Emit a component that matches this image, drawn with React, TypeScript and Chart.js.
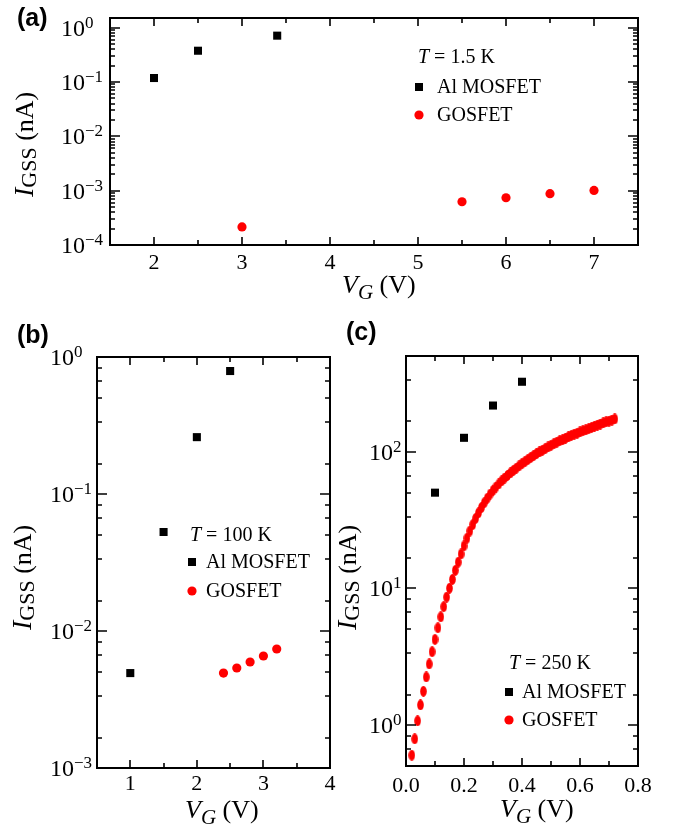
import React, { useEffect, useRef } from 'react';
import { Chart, registerables } from 'chart.js';

Chart.register(...registerables);

const W = 675;
const H = 834;
const SERIF = '"Liberation Serif", "Times New Roman", Times, serif';
const SANS = '"Liberation Sans", Arial, Helvetica, sans-serif';
const RED = '#ff0000';
const BLACK = '#000000';

// ---------- Panel (a): T = 1.5 K ----------
const aMosfetVg = [2, 2.5, 3.4];
const aMosfetI = [0.118, 0.375, 0.71];
const aGosfetVg = [3, 5.5, 6, 6.5, 7];
const aGosfetI = [2.15e-4, 6.25e-4, 7.4e-4, 8.8e-4, 1.01e-3];
const aXMajor = [2, 3, 4, 5, 6, 7];
const aXLabels = ['2', '3', '4', '5', '6', '7'];
const aXMinor = [2.5, 3.5, 4.5, 5.5, 6.5];
const aYMajor = [1e-4, 1e-3, 1e-2, 1e-1, 1];
const aYExp = ['\u22124', '\u22123', '\u22122', '\u22121', '0'];
const aYMinor = [
  2e-4, 3e-4, 4e-4, 5e-4, 6e-4, 7e-4, 8e-4, 9e-4,
  2e-3, 3e-3, 4e-3, 5e-3, 6e-3, 7e-3, 8e-3, 9e-3,
  2e-2, 3e-2, 4e-2, 5e-2, 6e-2, 7e-2, 8e-2, 9e-2,
  0.2, 0.3, 0.4, 0.5, 0.6, 0.7, 0.8, 0.9,
];

// ---------- Panel (b): T = 100 K ----------
const bMosfetVg = [1, 1.5, 2, 2.5];
const bMosfetI = [4.93e-3, 0.0528, 0.26, 0.79];
const bGosfetVg = [2.4, 2.6, 2.8, 3.0, 3.2];
const bGosfetI = [4.93e-3, 5.37e-3, 5.94e-3, 6.57e-3, 7.39e-3];
const bXMajor = [1, 2, 3, 4];
const bXLabels = ['1', '2', '3', '4'];
const bXMinor = [1.5, 2.5, 3.5];
const bYMajor = [1e-3, 1e-2, 1e-1, 1];
const bYExp = ['\u22123', '\u22122', '\u22121', '0'];
const bYMinor = [
  1.667e-3, 3.333e-3, 5e-3, 6.667e-3, 8.333e-3,
  1.667e-2, 3.333e-2, 5e-2, 6.667e-2, 8.333e-2,
  0.1667, 0.3333, 0.5, 0.6667, 0.8333,
];

// ---------- Panel (c): T = 250 K ----------
const cMosfetVg = [0.1, 0.2, 0.3, 0.4];
const cMosfetI = [50, 126, 217, 324];
const cGosfetVg = [
  0.02, 0.03, 0.04, 0.05, 0.06, 0.07, 0.08, 0.09, 0.10, 0.11, 0.12, 0.13,
  0.14, 0.15, 0.16, 0.17, 0.18, 0.19, 0.20, 0.21, 0.22, 0.23, 0.24, 0.25,
  0.26, 0.27, 0.28, 0.29, 0.30, 0.31, 0.32, 0.33, 0.34, 0.35, 0.36, 0.37,
  0.38, 0.39, 0.40, 0.41, 0.42, 0.43, 0.44, 0.45, 0.46, 0.47, 0.48, 0.49,
  0.50, 0.51, 0.52, 0.53, 0.54, 0.55, 0.56, 0.57, 0.58, 0.59, 0.60, 0.61,
  0.62, 0.63, 0.64, 0.65, 0.66, 0.67, 0.68, 0.69, 0.70, 0.71, 0.72,
];
const cGosfetI = [
  0.60, 0.79, 1.07, 1.40, 1.76, 2.24, 2.79, 3.43, 4.22, 5.13, 6.17, 7.33,
  8.61, 10.0, 11.6, 13.5, 15.5, 17.8, 20.4, 23.2, 26.2, 29.2, 32.4, 35.6,
  38.9, 42.2, 45.5, 48.8, 51.9, 55.0, 57.9, 61.0, 64.0, 66.8, 69.7, 72.6,
  75.5, 78.5, 81.5, 84.3, 87.3, 90.4, 93.3, 96.4, 99.3, 102, 105, 108,
  111, 114, 117, 120, 122, 125, 128, 131, 134, 136, 139, 142,
  144, 147, 150, 153, 156, 159, 162, 165, 167, 170, 173,
];
const cXMajor = [0, 0.2, 0.4, 0.6, 0.8];
const cXLabels = ['0.0', '0.2', '0.4', '0.6', '0.8'];
const cXMinor = [0.1, 0.3, 0.5, 0.7];
const cYMajor = [1, 10, 100];
const cYExp = ['0', '1', '2'];
const cYMinor = [
  0.6667, 0.8333,
  1.667, 3.333, 5, 6.667, 8.333,
  16.67, 33.33, 50, 66.67, 83.33,
  166.7, 333.3,
];

type Part = { t: string; font: string; dy?: number };

function drawParts(ctx: CanvasRenderingContext2D, x: number, y: number, parts: Part[]) {
  let cx = x;
  for (const p of parts) {
    ctx.font = p.font;
    ctx.fillText(p.t, cx, y + (p.dy || 0));
    cx += ctx.measureText(p.t).width;
  }
  return cx - x;
}

interface PanelCfg {
  area: { left: number; right: number; top: number; bottom: number };
  xMin: number; xMax: number; yMin: number; yMax: number;
  mosX: number[]; mosY: number[]; gosX: number[]; gosY: number[];
  ellipse?: boolean;
  xMajor: number[]; xLabels: string[]; xMinor: number[];
  yMajor: number[]; yExp: string[]; yMinor: number[];
  yLabelX: number; xLabelDy: number;
  letter: string; letterX: number; letterY: number;
  xTitleX: number; xTitleY: number;
  yTitleX: number; yTitleY: number;
  legTitle: string; legX: number; legMarkX: number; legTextX: number;
  legTitleY: number; legRow1Y: number; legRow2Y: number;
}

function makePanelPlugin(cfg: PanelCfg) {
  return {
    id: 'panelDecor',
    afterDraw(chart: any) {
      const ctx: CanvasRenderingContext2D = chart.ctx;
      const a = chart.chartArea;
      const xs = chart.scales.x;
      const ys = chart.scales.y;
      ctx.save();
      ctx.fillStyle = BLACK;
      ctx.strokeStyle = BLACK;

      // tick marks (inward, all four sides)
      ctx.lineWidth = 1.6;
      ctx.beginPath();
      const xt = (v: number, len: number) => {
        const p = Math.round(xs.getPixelForValue(v));
        ctx.moveTo(p, a.bottom); ctx.lineTo(p, a.bottom - len);
        ctx.moveTo(p, a.top); ctx.lineTo(p, a.top + len);
      };
      const yt = (v: number, len: number) => {
        const p = Math.round(ys.getPixelForValue(v));
        ctx.moveTo(a.left, p); ctx.lineTo(a.left + len, p);
        ctx.moveTo(a.right, p); ctx.lineTo(a.right - len, p);
      };
      cfg.xMajor.forEach((v) => xt(v, 8));
      cfg.xMinor.forEach((v) => xt(v, 5));
      cfg.yMajor.forEach((v) => yt(v, 10));
      cfg.yMinor.forEach((v) => yt(v, 5));
      ctx.stroke();

      // frame
      ctx.lineWidth = 2;
      ctx.strokeRect(a.left, a.top, a.right - a.left, a.bottom - a.top);

      // x tick labels
      ctx.textBaseline = 'alphabetic';
      ctx.textAlign = 'center';
      ctx.font = `22px ${SERIF}`;
      cfg.xMajor.forEach((v, i) => {
        ctx.fillText(cfg.xLabels[i], xs.getPixelForValue(v), a.bottom + cfg.xLabelDy);
      });

      // y tick labels 10^n
      ctx.textAlign = 'left';
      cfg.yMajor.forEach((v, i) => {
        const py = ys.getPixelForValue(v);
        drawParts(ctx, cfg.yLabelX, py + 8, [
          { t: '10', font: `24px ${SERIF}` },
          { t: cfg.yExp[i], font: `17px ${SERIF}`, dy: -8 },
        ]);
      });

      // x title
      drawParts(ctx, cfg.xTitleX, cfg.xTitleY, [
        { t: 'V', font: `italic 26px ${SERIF}` },
        { t: 'G', font: `italic 21px ${SERIF}`, dy: 6 },
        { t: ' (V)', font: `26px ${SERIF}` },
      ]);

      // y title (rotated)
      ctx.save();
      ctx.translate(cfg.yTitleX, cfg.yTitleY);
      ctx.rotate(-Math.PI / 2);
      drawParts(ctx, 0, 0, [
        { t: 'I', font: `italic 28px ${SERIF}` },
        { t: 'GSS', font: `22px ${SERIF}`, dy: 3 },
        { t: ' (nA)', font: `26px ${SERIF}` },
      ]);
      ctx.restore();

      // panel letter
      ctx.font = `bold 25px ${SANS}`;
      ctx.fillText(cfg.letter, cfg.letterX, cfg.letterY);

      // legend
      drawParts(ctx, cfg.legX, cfg.legTitleY, [
        { t: 'T', font: `italic 20px ${SERIF}` },
        { t: ' = ' + cfg.legTitle, font: `20px ${SERIF}` },
      ]);
      ctx.font = `20px ${SERIF}`;
      ctx.fillText('Al MOSFET', cfg.legTextX, cfg.legRow1Y);
      ctx.fillText('GOSFET', cfg.legTextX, cfg.legRow2Y);
      ctx.fillStyle = BLACK;
      ctx.fillRect(cfg.legMarkX - 4, cfg.legRow1Y - 6 - 4, 8, 8);
      ctx.fillStyle = RED;
      ctx.beginPath();
      ctx.arc(cfg.legMarkX, cfg.legRow2Y - 6, 4.6, 0, Math.PI * 2);
      ctx.fill();

      ctx.restore();
    },
  };
}

function makeEllipse(): HTMLCanvasElement {
  const c = document.createElement('canvas');
  c.width = 7;
  c.height = 11;
  const g = c.getContext('2d')!;
  g.fillStyle = RED;
  g.beginPath();
  g.ellipse(3.5, 5.5, 3.3, 5.4, 0, 0, Math.PI * 2);
  g.fill();
  return c;
}

function makeConfig(cfg: PanelCfg): any {
  const gosStyle: any = cfg.ellipse ? makeEllipse() : 'circle';
  return {
    type: 'scatter',
    data: {
      datasets: [
        {
          label: 'Al MOSFET',
          data: cfg.mosX.map((x, i) => ({ x, y: cfg.mosY[i] })),
          pointStyle: 'rect',
          pointRadius: 5.7,
          pointBorderWidth: 0,
          backgroundColor: BLACK,
          borderColor: BLACK,
          showLine: false,
        },
        {
          label: 'GOSFET',
          data: cfg.gosX.map((x, i) => ({ x, y: cfg.gosY[i] })),
          pointStyle: gosStyle,
          pointRadius: 4.6,
          pointBorderWidth: 0,
          backgroundColor: RED,
          borderColor: RED,
          showLine: false,
        },
      ],
    },
    options: {
      responsive: false,
      animation: false,
      devicePixelRatio: 1,
      events: [],
      layout: {
        padding: {
          left: cfg.area.left,
          top: cfg.area.top,
          right: W - cfg.area.right,
          bottom: H - cfg.area.bottom,
        },
      },
      scales: {
        x: { type: 'linear', display: false, min: cfg.xMin, max: cfg.xMax, bounds: 'data' },
        y: { type: 'logarithmic', display: false, min: cfg.yMin, max: cfg.yMax, bounds: 'data' },
      },
      plugins: { legend: { display: false }, tooltip: { enabled: false } },
    },
    plugins: [makePanelPlugin(cfg)],
  };
}

const panelA: PanelCfg = {
  area: { left: 110, right: 638, top: 18, bottom: 245 },
  xMin: 1.5, xMax: 7.5, yMin: 1e-4, yMax: 1.5,
  mosX: aMosfetVg, mosY: aMosfetI, gosX: aGosfetVg, gosY: aGosfetI,
  xMajor: aXMajor, xLabels: aXLabels, xMinor: aXMinor,
  yMajor: aYMajor, yExp: aYExp, yMinor: aYMinor,
  yLabelX: 61, xLabelDy: 24,
  letter: '(a)', letterX: 17, letterY: 26,
  xTitleX: 342, xTitleY: 293,
  yTitleX: 33, yTitleY: 197,
  legTitle: '1.5 K', legX: 418, legMarkX: 419, legTextX: 437,
  legTitleY: 63, legRow1Y: 93, legRow2Y: 121,
};

const panelB: PanelCfg = {
  area: { left: 97, right: 330, top: 357, bottom: 768 },
  xMin: 0.5, xMax: 4, yMin: 1e-3, yMax: 1,
  mosX: bMosfetVg, mosY: bMosfetI, gosX: bGosfetVg, gosY: bGosfetI,
  xMajor: bXMajor, xLabels: bXLabels, xMinor: bXMinor,
  yMajor: bYMajor, yExp: bYExp, yMinor: bYMinor,
  yLabelX: 50, xLabelDy: 22,
  letter: '(b)', letterX: 17, letterY: 343,
  xTitleX: 185, xTitleY: 818,
  yTitleX: 31, yTitleY: 630,
  legTitle: '100 K', legX: 190, legMarkX: 192, legTextX: 206,
  legTitleY: 541, legRow1Y: 568, legRow2Y: 597,
};

const panelC: PanelCfg = {
  area: { left: 406, right: 638, top: 356, bottom: 766 },
  xMin: 0, xMax: 0.8, yMin: 0.5, yMax: 500,
  mosX: cMosfetVg, mosY: cMosfetI, gosX: cGosfetVg, gosY: cGosfetI,
  ellipse: true,
  xMajor: cXMajor, xLabels: cXLabels, xMinor: cXMinor,
  yMajor: cYMajor, yExp: cYExp, yMinor: cYMinor,
  yLabelX: 369, xLabelDy: 26,
  letter: '(c)', letterX: 346, letterY: 340,
  xTitleX: 500, xTitleY: 817,
  yTitleX: 356, yTitleY: 630,
  legTitle: '250 K', legX: 509, legMarkX: 509, legTextX: 522,
  legTitleY: 669, legRow1Y: 698, legRow2Y: 726,
};

function Panel({ cfg }: { cfg: PanelCfg }) {
  const ref = useRef<HTMLCanvasElement>(null);
  useEffect(() => {
    const chart = new Chart(ref.current as HTMLCanvasElement, makeConfig(cfg));
    return () => chart.destroy();
  }, [cfg]);
  return (
    <canvas
      ref={ref}
      width={W}
      height={H}
      style={{ position: 'absolute', left: 0, top: 0, width: W, height: H }}
    />
  );
}

export default function App() {
  return (
    <div style={{ position: 'absolute', left: 0, top: 0, width: W, height: H, background: '#fff' }}>
      <Panel cfg={panelA} />
      <Panel cfg={panelB} />
      <Panel cfg={panelC} />
    </div>
  );
}
